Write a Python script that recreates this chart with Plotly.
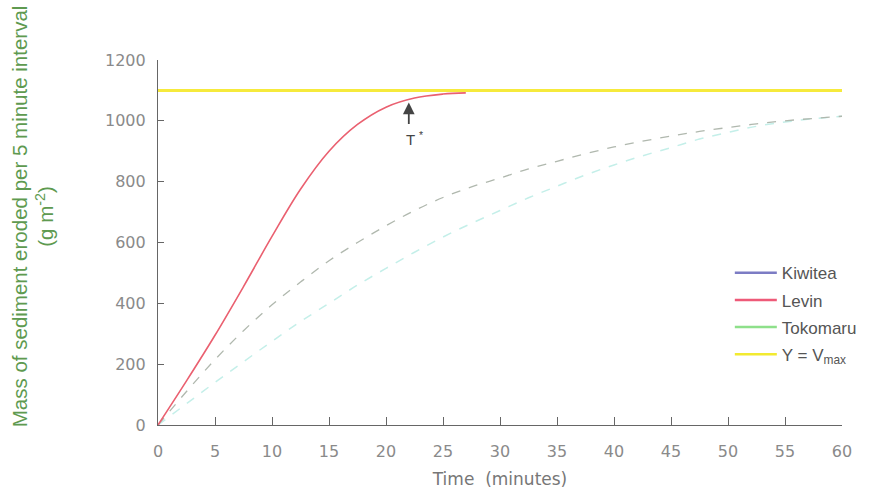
import plotly.graph_objects as go

# Erosion curves: cumulative sediment mass vs time for three soils
time_kiwitea = [0, 2.5, 5, 7.5, 10, 12.5, 15, 17.5, 20, 22.5, 25, 27.5, 30, 32.5, 35, 37.5, 40, 42.5, 45, 47.5, 50, 52.5, 55, 57.5, 60]
mass_kiwitea = [0, 110, 215, 310, 395, 470, 540, 600, 655, 705, 748, 783, 812, 842, 867, 892, 914, 933, 950, 965, 978, 990, 1000, 1008, 1015]

time_levin = [0, 2.5, 5, 7.5, 10, 12.5, 15, 17.5, 20, 22.5, 25, 27]
mass_levin = [0, 145, 295, 455, 620, 775, 900, 988, 1045, 1075, 1088, 1092]

time_tokomaru = [0, 2.5, 5, 7.5, 10, 12.5, 15, 17.5, 20, 22.5, 25, 27.5, 30, 32.5, 35, 37.5, 40, 42.5, 45, 47.5, 50, 52.5, 55, 57.5, 60]
mass_tokomaru = [0, 70, 140, 208, 275, 340, 400, 460, 515, 568, 618, 663, 705, 747, 785, 822, 855, 885, 912, 940, 962, 982, 996, 1007, 1015]

time_vmax = [0, 60]
mass_vmax = [1100, 1100]

t_star = 22
t_star_tip = 1060
t_star_tail = 985

x_ticks = list(range(0, 61, 5))
y_ticks = list(range(0, 1201, 200))

fig = go.Figure()

# plotted curves
fig.add_trace(go.Scatter(x=time_vmax, y=mass_vmax, mode="lines", showlegend=False,
                         line=dict(color="#f6ea3c", width=3)))
fig.add_trace(go.Scatter(x=time_tokomaru, y=mass_tokomaru, mode="lines", showlegend=False,
                         line=dict(color="#c4efe9", width=1.5, dash="dash", shape="spline")))
fig.add_trace(go.Scatter(x=time_kiwitea, y=mass_kiwitea, mode="lines", showlegend=False,
                         line=dict(color="#b0b8ae", width=1.3, dash="dash", shape="spline")))
fig.add_trace(go.Scatter(x=time_levin, y=mass_levin, mode="lines", showlegend=False,
                         line=dict(color="#ea6070", width=1.6, shape="spline")))

# legend keys
legend_items = [("Kiwitea", "#7c7cc4", "g1"), ("Levin", "#ee5a78", "g2"),
                ("Tokomaru", "#8ee08a", "g3"), ("Y = V<sub>max</sub>", "#f2ea30", "g4")]
for name, color, grp in legend_items:
    fig.add_trace(go.Scatter(x=[None], y=[None], mode="lines", name=name, legendgroup=grp,
                             line=dict(color=color, width=2.5)))

# T* marker
fig.add_annotation(x=t_star, y=t_star_tip, ax=t_star, ay=t_star_tail, axref="x", ayref="y",
                   xref="x", yref="y", text="", showarrow=True, arrowhead=2, arrowsize=1.3,
                   arrowwidth=1.8, arrowcolor="#444444")
fig.add_annotation(x=t_star + 0.5, y=t_star_tail - 42, xref="x", yref="y",
                   text="T <sup>*</sup>", showarrow=False,
                   font=dict(family="Liberation Sans", size=15, color="#444444"))

# y-axis title
fig.add_annotation(x=(6 - 158) / 684, y=0.572, xref="paper", yref="paper", textangle=-90,
                   text="Mass of sediment eroded per 5 minute interval<br>(g m<sup>-2</sup>)",
                   showarrow=False, font=dict(family="Liberation Sans", size=20.5, color="#5e9a50"))

fig.update_layout(
    width=876, height=491,
    margin=dict(l=158, r=34, t=60, b=66, autoexpand=False),
    paper_bgcolor="white", plot_bgcolor="white",
    showlegend=True,
    legend=dict(x=0.836, y=0.465, xanchor="left", yanchor="top", bgcolor="rgba(0,0,0,0)",
                font=dict(family="Liberation Sans", size=17, color="#555555"),
                tracegroupgap=2, itemwidth=42),
    xaxis=dict(range=[0, 60], tickvals=x_ticks, showgrid=False, zeroline=False,
               showline=True, linecolor="#666666", linewidth=1.2, automargin=False,
               ticks="inside", ticklen=8, tickcolor="#666666", ticklabelstandoff=12,
               tickfont=dict(family="DejaVu Sans", size=16, color="#8a8a8a"),
               title=dict(text="Time  (minutes)", standoff=12,
                          font=dict(family="DejaVu Sans", size=17, color="#777777"))),
    yaxis=dict(range=[0, 1200], tickvals=y_ticks, showgrid=False, zeroline=False,
               showline=True, linecolor="#666666", linewidth=1.2, automargin=False,
               ticks="inside", ticklen=6, tickcolor="#666666", ticklabelstandoff=8,
               tickfont=dict(family="DejaVu Sans", size=16, color="#8a8a8a")),
)

fig.write_html("out.html")
